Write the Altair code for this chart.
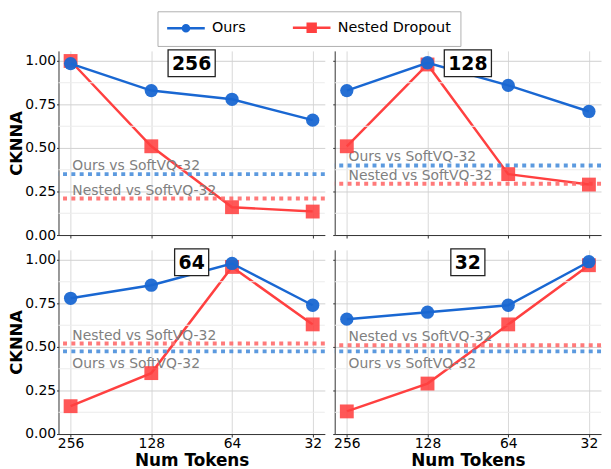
import altair as alt
import pandas as pd

# ---------------- data ----------------
tokens = ["256", "128", "64", "32"]
series_names = ["Ours", "Nested Dropout"]
panel_names = ["256", "128", "64", "32"]

ours_256 = [0.985, 0.83, 0.78, 0.66]
ours_128 = [0.83, 0.99, 0.86, 0.71]
ours_64 = [0.78, 0.855, 0.98, 0.74]
ours_32 = [0.66, 0.70, 0.74, 0.99]

nested_256 = [1.00, 0.51, 0.16, 0.135]
nested_128 = [0.51, 0.98, 0.35, 0.29]
nested_64 = [0.16, 0.35, 0.96, 0.63]
nested_32 = [0.13, 0.29, 0.63, 0.97]

ours_vs_softvq = [0.35, 0.40, 0.475, 0.475]
nested_vs_softvq = [0.21, 0.295, 0.52, 0.51]
ref_labels = ["Ours vs SoftVQ-32", "Nested vs SoftVQ-32"]

major_ticks = [0.0, 0.25, 0.5, 0.75, 1.0]
minor_grid = [0.125, 0.375, 0.625, 0.875]

# ---------------- style ----------------
BLUE = "#1967d2"
RED = "#ff4040"
BLUE_REF = "#4a8fdc"
RED_REF = "#ff6b6b"
FONT = "DejaVu Sans"
W, H = 269, 186
YMAX = 1.058

legend_paths = [
    "M-3.8,0H3.8M-0.62,0A0.62,0.62,0,1,0,0.62,0A0.62,0.62,0,1,0,-0.62,0Z",
    "M-3.8,0H3.8M-0.8,-0.8H0.8V0.8H-0.8Z",
]

ours_all = [ours_256, ours_128, ours_64, ours_32]
nested_all = [nested_256, nested_128, nested_64, nested_32]


def make_panel(idx):
    name = panel_names[idx]
    row, col = divmod(idx, 2)
    bottom = row == 1
    left = col == 0

    df = pd.DataFrame({
        "tokens": tokens * 2,
        "series": [series_names[0]] * 4 + [series_names[1]] * 4,
        "value": ours_all[idx] + nested_all[idx],
    })

    ref_vals = [ours_vs_softvq[idx], nested_vs_softvq[idx]]
    close = abs(ref_vals[0] - ref_vals[1]) < 0.1
    pos = []
    for i, v in enumerate(ref_vals):
        other = ref_vals[1 - i]
        pos.append("below" if (close and v < other) else "above")
    ref_df = pd.DataFrame({
        "series": series_names,
        "ref": ref_vals,
        "label": ref_labels,
        "pos": pos,
    })

    x_axis = alt.Axis(
        labels=bottom, title="Num Tokens" if bottom else None,
        labelAngle=0, labelFontSize=14, labelColor="black", labelPadding=0,
        titleFontSize=17, titleFontWeight="bold", titleColor="black", titlePadding=2,
        tickSize=3, tickColor="#333333", domainColor="#333333",
        grid=True, gridColor="#d9d9d9",
    )
    y_axis = alt.Axis(
        values=major_ticks, format=".2f", labels=left,
        title="CKNNA" if left else None,
        labelFontSize=14, labelColor="black", labelPadding=1,
        titleFontSize=16.5, titleFontWeight="bold", titleColor="black", titlePadding=0,
        tickSize=2, tickColor="#333333", domainColor="#333333",
        grid=True, gridColor="#d0d0d0",
    )
    xs = alt.Scale(type="point", padding=0.15)
    ys = alt.Scale(domain=[0, YMAX], nice=False, zero=False)

    def X():
        return alt.X("tokens:O", sort=tokens, scale=xs, axis=x_axis)

    def Y(field):
        return alt.Y(field, scale=ys, axis=y_axis)

    base = alt.Chart(df)

    nested_line = base.transform_filter(alt.datum.series == series_names[1]).mark_line(
        color=RED, strokeWidth=2.5
    ).encode(x=X(), y=Y("value:Q"))
    nested_pts = base.transform_filter(alt.datum.series == series_names[1]).mark_point(
        shape="square", filled=True, size=196, color=RED, opacity=0.88
    ).encode(x=X(), y=Y("value:Q"))
    ours_line = base.transform_filter(alt.datum.series == series_names[0]).mark_line(
        color=BLUE, strokeWidth=2.5
    ).encode(x=X(), y=Y("value:Q"))
    ours_pts = base.transform_filter(alt.datum.series == series_names[0]).mark_point(
        shape="circle", filled=True, size=180, color=BLUE, opacity=0.95
    ).encode(x=X(), y=Y("value:Q"))

    minor = alt.Chart(pd.DataFrame({"m": minor_grid})).mark_rule(
        color="#ececec", strokeWidth=1
    ).encode(y=Y("m:Q"))

    ref_color = alt.condition(alt.datum.series == "Ours", alt.value(BLUE_REF), alt.value(RED_REF))
    ref_rules = alt.Chart(ref_df).mark_rule(
        strokeDash=[4, 4.4], strokeWidth=4, opacity=0.9
    ).encode(y=Y("ref:Q"), color=ref_color)

    text_above = alt.Chart(ref_df).transform_filter(alt.datum.pos == "above").mark_text(
        align="left", baseline="alphabetic", fontSize=14, color="#808080", dy=-4, font=FONT
    ).encode(x=alt.value(14), y=Y("ref:Q"), text="label:N")
    text_below = alt.Chart(ref_df).transform_filter(alt.datum.pos == "below").mark_text(
        align="left", baseline="alphabetic", fontSize=14, color="#808080", dy=17, font=FONT
    ).encode(x=alt.value(14), y=Y("ref:Q"), text="label:N")

    bw = 13.2 * len(name) + 8
    cx = W / 2
    title_df = pd.DataFrame({"name": [name]})
    box = alt.Chart(title_df).mark_rect(
        fill="white", stroke="#222222", strokeWidth=1.3
    ).encode(x=alt.value(cx - bw / 2), x2=alt.value(cx + bw / 2),
             y=alt.value(-1), y2=alt.value(26))
    box_text = alt.Chart(title_df).mark_text(
        fontSize=19, fontWeight="bold", color="black", font=FONT, baseline="middle"
    ).encode(x=alt.value(cx), y=alt.value(13), text="name:N")

    layers = [nested_line, minor, ref_rules, text_above, text_below,
              nested_pts, ours_line, ours_pts, box, box_text]

    if idx == 0:
        leg = alt.Legend(
            title=None, orient="none", legendX=100, legendY=-40,
            direction="horizontal", symbolSize=100, symbolOffset=12.5,
            labelOffset=19, columnPadding=41, labelFontSize=14.5, labelColor="black",
            labelFont=FONT, padding=9, strokeColor="#b0b0b0", fillColor="white",
            symbolStrokeWidth=2.5, cornerRadius=0, symbolOpacity=1,
        )
        legend_df = pd.DataFrame({"series": pd.Series([], dtype=str)})
        legend_layer = alt.Chart(legend_df).mark_point(filled=True, opacity=1).encode(
            shape=alt.Shape("series:N", scale=alt.Scale(domain=series_names, range=legend_paths), legend=leg),
            fill=alt.Fill("series:N", scale=alt.Scale(domain=series_names, range=[BLUE, RED]), legend=leg),
            stroke=alt.Stroke("series:N", scale=alt.Scale(domain=series_names, range=[BLUE, RED]), legend=leg),
        )
        layers.append(legend_layer)

    return alt.layer(*layers).properties(width=W, height=H)


panels = [make_panel(i) for i in range(4)]
top = alt.hconcat(panels[0], panels[1], spacing=5)
bot = alt.hconcat(panels[2], panels[3], spacing=5)
chart = alt.vconcat(top, bot, spacing=6).properties(padding=0).configure(
    font=FONT
).configure_view(stroke=None)

chart.save("out.html", embed_options={"renderer": "svg", "actions": False})
